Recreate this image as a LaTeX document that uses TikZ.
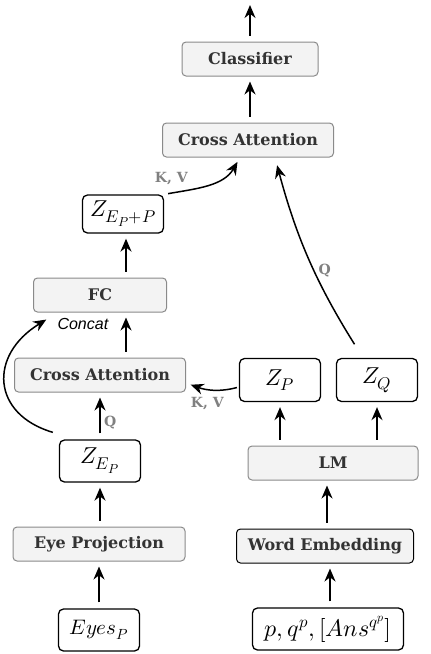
\documentclass[tikz,border=0pt]{standalone}
\usepackage{fontspec}
\usepackage{unicode-math}
\setmainfont{DejaVu Serif}
\setmathfont{Latin Modern Math}
\newfontfamily\concatfont{Liberation Sans}
\DeclareMathSizes{23}{23}{17}{13}
\DeclareMathSizes{25}{25}{18}{14}
\usetikzlibrary{arrows.meta}
\definecolor{boxfill}{HTML}{F3F3F3}
\definecolor{boxline}{HTML}{8A8A8A}
\definecolor{boxtext}{HTML}{333333}
\definecolor{kvgray}{HTML}{808080}
\tikzset{
  block/.style={draw=boxline, fill=boxfill, line width=1pt, rounded corners=4pt,
    minimum height=34pt, text=boxtext, font=\fontsize{16}{18}\selectfont\bfseries, inner sep=0pt},
  mathbox/.style={draw=black, fill=white, line width=1.3pt, rounded corners=5pt,
    minimum height=42pt, minimum width=81pt, font=\fontsize{23}{27}\selectfont, inner sep=0pt},
  arr/.style={-{Stealth[length=13pt,width=11pt]}, line width=1.5pt, shorten >=5pt, shorten <=6pt},
  kv/.style={text=kvgray, font=\fontsize{14}{16}\selectfont\bfseries},
}
\begin{document}
\begin{tikzpicture}[x=1pt,y=-1pt]
\useasboundingbox (0,0) rectangle (431,654);
\coordinate (out) at (250,0);
% top part
\node[block, minimum width=136pt] (Classifier) at (250,59) {Classifier};
\node[block, minimum width=171pt] (CAtop) at (248,140) {Cross Attention};
\draw[arr] (Classifier.north) -- (out);
\draw[arr] (CAtop.north -| Classifier) -- (Classifier.south);
% eye side
\node[mathbox, minimum height=38pt] (Zepp) at (123,214) {$Z_{E_P+P}$};
\node[block, minimum width=133pt] (FC) at (100,295) {FC};
\node[block, minimum width=171pt] (CAleft) at (100,375) {Cross Attention};
\node[mathbox] (Zep) at (100,461) {$Z_{E_P}$};
\node[block, minimum width=172pt] (EyeProj) at (99,544) {Eye Projection};
\node[mathbox, font=\fontsize{21}{25}\selectfont] (Eyes) at (99,630) {$Eyes_P$};
\draw[arr] (Eyes) -- (EyeProj);
\draw[arr] (EyeProj.north -| Zep) -- (Zep.south);
\draw[arr] (Zep) -- node[kv, right, pos=0.35] {Q} (CAleft.south -| Zep);
\draw[arr] ([xshift=26pt]CAleft.north) coordinate (caup) -- (caup |- FC.south);
\draw[arr] ([xshift=26pt]FC.north) coordinate (fcup) -- (fcup |- Zepp.south);
\draw[arr, shorten <=0pt, shorten >=2pt] ([xshift=-6pt,yshift=7pt]Zep.north west)
  .. controls +(-61,-18) and +(-60,37) .. ([xshift=15pt,yshift=-6pt]FC.south west);
\node[font=\fontsize{16}{18}\selectfont\concatfont\itshape, anchor=west] (concat) at (54,324) {Concat};
\draw[arr, shorten <=4pt] (Zepp.north east) to[out=10, in=240] node[kv, pos=0.3, above left=0pt] {K, V} ([xshift=-8pt]CAtop.south);
% text side
\node[mathbox, minimum height=43pt] (Zp) at (280,380) {$Z_P$};
\node[mathbox, minimum height=43pt] (Zq) at (377,380) {$Z_Q$};
\node[block, minimum width=170pt] (LM) at (333,463) {LM};
\node[block, draw=black, minimum width=177pt] (WordEmb) at (325,546) {Word Embedding};
\node[mathbox, minimum width=151pt, font=\fontsize{24}{28}\selectfont] (Input) at (328,629) {$p,q^p,[Ans^{q^p}]$};
\draw[arr] ([xshift=2pt]Input.north) coordinate (inup) -- (inup |- WordEmb.south);
\draw[arr] ([xshift=2pt]WordEmb.north) coordinate (weup) -- (weup |- LM.south);
\draw[arr] (LM.north -| Zp) -- (Zp.south);
\draw[arr] (LM.north -| Zq) -- (Zq.south);
\draw[arr, shorten <=2pt] ([yshift=-7pt]Zp.west) to[out=195, in=-20] node[kv, pos=0.6, below=4pt] {K, V} ([yshift=-8pt]CAleft.east);
\draw[arr, shorten <=16pt, shorten >=8pt] ([xshift=-14pt]Zq.north) to[out=122, in=-75] node[kv, pos=0.45, right=0pt] {Q} ([xshift=27pt]CAtop.south);
\end{tikzpicture}
\end{document}
